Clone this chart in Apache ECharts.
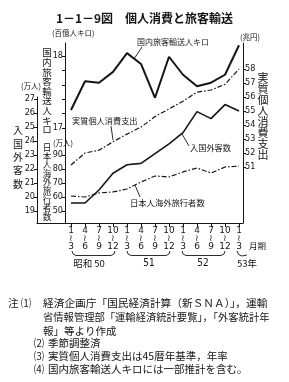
<!DOCTYPE html>
<html><head><meta charset="utf-8">
<script src="https://cdn.jsdelivr.net/npm/echarts@6/dist/echarts.min.js"></script>
<style>html,body{margin:0;padding:0;background:#fff}#c{width:289px;height:382px}</style>
</head><body><div id="c"></div>
<script>
// ---- data ----
const quarterLabels = ['1\n≀\n3','4\n≀\n6','7\n≀\n9','10\n≀\n12','1\n≀\n3','4\n≀\n6','7\n≀\n9','10\n≀\n12','1\n≀\n3','4\n≀\n6','7\n≀\n9','10\n≀\n12','1\n≀\n3'];
const yearLabels = ['昭和 50','51','52','53年'];
const domesticPassengerKm = [17.25,17.65,17.63,17.78,18.04,17.89,17.42,17.99,17.74,17.58,17.63,17.74,18.15];
const realConsumption = [51.14,52.0,52.2,52.8,53.35,53.85,54.6,55.15,55.7,56.35,56.5,56.9,58.0];
const inboundVisitors = [19.57,19.57,20.5,21.7,22.3,22.4,23.1,23.8,24.6,26.1,25.6,26.6,26.15];
const outboundJapanese = [60.7,60.0,62.9,63.6,65.7,70.7,75.0,74.3,77.9,80.7,77.1,81.4,82.1];
const inboundTicks = [19,20,21,22,23,24,25,26,27];
const outboundTicks = [50,60,70,80,90];
const domesticTicks = [17,17.2,17.4,17.6,17.8,18,18.2];
const domesticLabels = [17,18];
const consumptionTicks = [51,52,53,54,55,56,57,58];

// ---- chart ----
const INK = '#151515';
const NUM_FONT = "'DejaVu Sans Condensed','Liberation Sans',sans-serif";
const JP = "'Noto Sans CJK JP',sans-serif";
const idx = quarterLabels.map((_, i) => i);
const pts = arr => arr.map((v, i) => [i, v]);
const xMin = -34/14, xMax = 12 + 4/14;

function yAx(o) {
  return Object.assign({
    type: 'value', splitLine: {show: false}, scale: true,
    axisLine: {show: true, onZero: false, lineStyle: {color: INK, width: 1}},
    axisTick: {show: true, length: 3, lineStyle: {color: INK, width: 1}},
    axisLabel: {fontSize: 9, color: INK, margin: 2, fontFamily: NUM_FONT}
  }, o);
}
function txt(x, y, text, size, extra) {
  return {type: 'text', silent: true, style: Object.assign({
    x, y, text, fill: INK, font: size + 'px ' + JP, textAlign: 'left', textVerticalAlign: 'middle'
  }, extra || {})};
}
function vtxt(x, y, text, size, lh) {
  return {type: 'text', silent: true, style: {
    x, y, text: text.split('').join('\n'), fill: INK, fontSize: size, fontFamily: 'Noto Sans CJK JP',
    lineHeight: lh, textAlign: 'center', textVerticalAlign: 'top'
  }};
}
function pl(points, w) {
  return {type: 'polyline', silent: true, shape: {points}, style: {stroke: INK, lineWidth: w || 0.9, fill: null}};
}

const chart = echarts.init(document.getElementById('c'));
chart.setOption({
  animation: false,
  backgroundColor: '#fff',
  title: {
    text: '1－1－9図　個人消費と旅客輸送', left: 'center', top: 7,
    textStyle: {fontSize: 12, fontWeight: 'bold', color: INK, fontFamily: JP}
  },
  grid: [
    {left: 37, right: 46, top: 43, bottom: 159},
    {left: 37, right: 46, top: 97, bottom: 159}
  ],
  xAxis: [
    {type: 'value', gridIndex: 0, min: xMin, max: xMax, splitLine: {show: false},
     axisLine: {show: true, onZero: false, lineStyle: {color: INK, width: 1}},
     axisTick: {show: true, length: 4, customValues: idx, lineStyle: {color: INK}},
     axisLabel: {customValues: idx, formatter: v => quarterLabels[Math.round(v)], fontSize: 9, lineHeight: 8,
                 color: INK, margin: 4, fontFamily: "'DejaVu Sans','Liberation Sans',sans-serif"}},
    {type: 'value', gridIndex: 1, min: xMin, max: xMax, show: false}
  ],
  yAxis: [
    yAx({gridIndex: 0, position: 'left', offset: -28, min: 15.681, max: 18.181,
         axisTick: {show: true, length: 3, customValues: domesticTicks, lineStyle: {color: INK}},
         axisLabel: {customValues: domesticLabels, fontSize: 9, color: INK, margin: 2, fontFamily: NUM_FONT}}),
    yAx({gridIndex: 0, position: 'left', offset: -28, min: 41.43, max: 170,
         axisLine: {show: false, onZero: false},
         axisTick: {show: true, length: 3, customValues: outboundTicks, lineStyle: {color: INK}},
         axisLabel: {customValues: outboundTicks, fontSize: 9, color: INK, margin: 2, fontFamily: NUM_FONT}}),
    yAx({gridIndex: 0, position: 'right', offset: 0, min: 47, max: 47 + 180/14,
         axisTick: {show: true, length: 3, customValues: consumptionTicks, lineStyle: {color: INK}},
         axisLabel: {customValues: consumptionTicks, fontSize: 9, color: INK, margin: 2, fontFamily: NUM_FONT}}),
    yAx({gridIndex: 1, position: 'left', offset: 0, min: 19 - 12/14, max: 27 + 2/14,
         axisTick: {show: true, length: 3, customValues: inboundTicks, lineStyle: {color: INK}},
         axisLabel: {customValues: inboundTicks, fontSize: 9, color: INK, margin: 2, fontFamily: NUM_FONT}})
  ],
  series: [
    {name: '国内旅客輸送人キロ', type: 'line', xAxisIndex: 0, yAxisIndex: 0, data: pts(domesticPassengerKm),
     symbol: 'none', clip: false, lineStyle: {color: INK, width: 2}},
    {name: '日本人海外旅行者数', type: 'line', xAxisIndex: 0, yAxisIndex: 1, data: pts(outboundJapanese),
     symbol: 'none', clip: false, lineStyle: {color: INK, width: 1.2, type: [5, 2, 1.5, 2]}},
    {name: '実質個人消費支出', type: 'line', xAxisIndex: 0, yAxisIndex: 2, data: pts(realConsumption),
     symbol: 'none', clip: false, lineStyle: {color: INK, width: 1.2, type: [5, 2, 1.5, 2]}},
    {name: '入国外客数', type: 'line', xAxisIndex: 1, yAxisIndex: 3, data: pts(inboundVisitors),
     symbol: 'none', clip: false, lineStyle: {color: INK, width: 1.6}}
  ],
  graphic: [
    txt(52, 33, '(百億人キロ)', 7.5),
    txt(240, 37, '(兆円)', 7.5),
    txt(21, 86, '(万人)', 7.5),
    txt(53, 143, '(万人)', 7.5),
    txt(137, 42, '国内旅客輸送人キロ', 8),
    pl([[142, 47], [134, 59]]),
    txt(72, 121, '実質個人消費支出', 8.2),
    pl([[111, 126], [113, 140]]),
    txt(190, 148, '入国外客数', 8.2),
    pl([[182, 134], [189, 146]]),
    txt(130, 203, '日本人海外旅行者数', 8.3),
    pl([[135, 185], [140, 197]]),
    vtxt(18, 124, '入国外客数', 10, 13.3),
    vtxt(47, 48, '国内旅客輸送人キロ', 9.5, 9.6),
    vtxt(47, 143.5, '日本人海外旅行者数', 8.6, 8.6),
    vtxt(263, 72.5, '実質個人消費支出', 11, 11),
    // year braces
    pl([[72, 251], [73, 254], [76, 255.5], [111, 255.5], [114, 254], [115, 251]]),
    pl([[127, 251], [128, 254], [131, 255.5], [166, 255.5], [169, 254], [170, 251]]),
    pl([[182, 251], [183, 254], [186, 255.5], [221, 255.5], [224, 254], [225, 251]]),
    pl([[237, 251], [238.5, 254.5], [242, 256], [247, 255]]),
    txt(89, 263, yearLabels[0], 9.5, {textAlign: 'center'}),
    txt(149, 263, yearLabels[1], 9.5, {textAlign: 'center', font: '10px ' + NUM_FONT}),
    txt(203, 263, yearLabels[2], 9.5, {textAlign: 'center', font: '10px ' + NUM_FONT}),
    txt(247, 263, yearLabels[3], 9.5, {textAlign: 'center'}),
    txt(249, 246, '月期', 8.5),
    // notes
    txt(8, 303, '注', 10.5),
    txt(21, 303, '⑴', 10),
    txt(43, 303, '経済企画庁「国民経済計算（新ＳＮＡ）」，運輸', 10.7),
    txt(43, 317, '省情報管理部「運輸経済統計要覧」，「外客統計年', 10.3),
    txt(43, 331, '報」等より作成', 10.5),
    txt(34, 343, '⑵', 10),
    txt(48, 343, '季節調整済', 10.5),
    txt(34, 356, '⑶', 10),
    txt(48, 356, '実質個人消費支出は45暦年基準，年率', 10.5),
    txt(34, 369, '⑷', 10),
    txt(48, 369, '国内旅客輸送人キロには一部推計を含む。', 10.5)
  ]
});
</script></body></html>
